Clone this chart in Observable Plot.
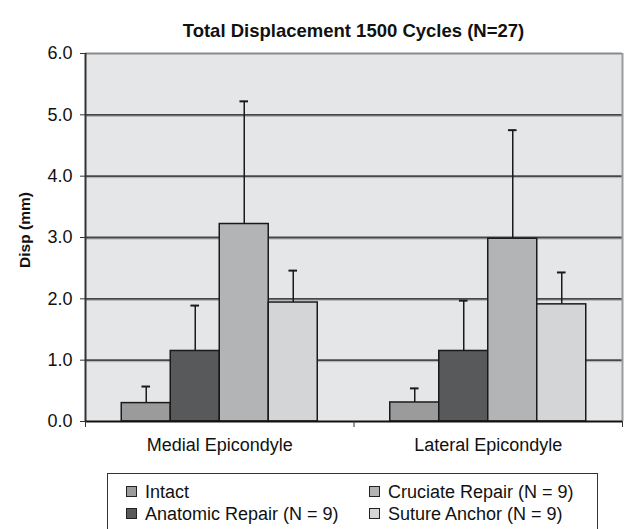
<!DOCTYPE html>
<html>
<head>
<meta charset="utf-8">
<script src="https://cdn.jsdelivr.net/npm/d3@7"></script>
<script src="https://cdn.jsdelivr.net/npm/@observablehq/plot@0.6"></script>
<style>
  html, body { margin: 0; padding: 0; background: #fff; }
  #wrap { position: relative; width: 627px; height: 529px; overflow: hidden; font-family: "Liberation Sans", Arial, sans-serif; color: #111; }
  #title { position: absolute; left: 85px; width: 537px; top: 21px; text-align: center; font-weight: bold; font-size: 18.5px; line-height: 20px; }
  #ylabel { position: absolute; left: 25px; top: 230px; transform: translate(-50%, -50%) rotate(-90deg); font-weight: bold; font-size: 15.5px; line-height: 18px; white-space: nowrap; }
  #chart { position: absolute; left: 0; top: 0; }
  #legend { position: absolute; left: 107px; top: 473px; width: 491px; height: 70px; border: 1.5px solid #333; background: #fff; box-sizing: border-box; }
  .item { position: absolute; font-size: 18px; line-height: 22px; white-space: nowrap; }
  .sw { display: inline-block; width: 9px; height: 9px; border: 1px solid #222; margin-right: 8px; vertical-align: 1px; }
</style>
</head>
<body>
<div id="wrap">
  <div id="chart"></div>
  <div id="title">Total Displacement 1500 Cycles (N=27)</div>
  <div id="ylabel">Disp (mm)</div>
  <div id="legend"></div>
</div>
<script>
const sites = ["Medial Epicondyle", "Lateral Epicondyle"];
const groups = ["Intact", "Anatomic Repair (N = 9)", "Cruciate Repair (N = 9)", "Suture Anchor (N = 9)"];
const colors = ["#9b9b9b", "#58595b", "#b3b4b6", "#d4d5d7"];
const medialMeans = [0.30, 1.15, 3.22, 1.94];
const medialErrs = [0.27, 0.74, 2.00, 0.52];
const lateralMeans = [0.31, 1.15, 2.98, 1.91];
const lateralErrs = [0.23, 0.82, 1.77, 0.52];
const yTicks = [0, 1, 2, 3, 4, 5, 6];

const means = [medialMeans, lateralMeans];
const errs = [medialErrs, lateralErrs];
const bw = 0.1825;   // bar width as a fraction of a category band
const cap = 0.016;   // half-width of error caps

const rows = [];
sites.forEach((s, si) => {
  groups.forEach((g, gi) => {
    const xc = si + 0.5 + (gi - 1.5) * bw;
    rows.push({site: s, group: g, color: colors[gi], value: means[si][gi], top: means[si][gi] + errs[si][gi], xc, x1: xc - bw / 2, x2: xc + bw / 2});
  });
});

const grid = yTicks.filter(d => d > 0 && d < 6);

const chart = Plot.plot({
  width: 627,
  height: 529,
  marginTop: 53,
  marginBottom: 108,
  marginLeft: 85,
  marginRight: 5,
  style: {fontFamily: '"Liberation Sans", Arial, sans-serif', color: "#111", background: "transparent"},
  x: {domain: [0, 2], axis: null},
  y: {domain: [0, 6], axis: null},
  marks: [
    Plot.frame({fill: "#e5e6e8", stroke: null}),
    Plot.ruleY(grid, {stroke: "#b0b0b0", strokeWidth: 1, dy: 1.5}),
    Plot.ruleY(grid, {stroke: "#474747", strokeWidth: 1.8}),
    Plot.ruleY([6], {stroke: "#8a8a8a", strokeWidth: 2}),
    Plot.ruleX([2], {stroke: "#9c9c9c", strokeWidth: 2}),
    Plot.ruleX(rows, {x: "xc", y1: "value", y2: "top", stroke: "#1a1a1a", strokeWidth: 1.5}),
    Plot.ruleY(rows, {y: "top", x1: d => d.xc - cap, x2: d => d.xc + cap, stroke: "#1a1a1a", strokeWidth: 2}),
    Plot.rectY(rows, {x1: "x1", x2: "x2", y: "value", fill: "color", stroke: "#1a1a1a", strokeWidth: 1.5}),
    Plot.ruleX([0], {stroke: "#333", strokeWidth: 2}),
    Plot.ruleY([0], {stroke: "#111", strokeWidth: 2}),
    Plot.axisY({ticks: yTicks, tickFormat: d => d.toFixed(1), tickSize: 5, tickPadding: 8, fontSize: 18, label: null, stroke: "#333"}),
    Plot.axisX({ticks: [0, 1, 2], tickSize: 6, tickFormat: () => "", label: null, stroke: "#333"}),
    Plot.text(sites, {x: (d, i) => i + 0.5, frameAnchor: "bottom", lineAnchor: "top", dy: 17, fontSize: 18, fill: "#111"})
  ]
});
document.getElementById("chart").appendChild(chart);

// legend
const legend = document.getElementById("legend");
const pos = [[18, 7], [18, 29], [261, 7], [261, 29]];
groups.forEach((g, i) => {
  const it = document.createElement("div");
  it.className = "item";
  it.style.left = pos[i][0] + "px";
  it.style.top = pos[i][1] + "px";
  const sw = document.createElement("span");
  sw.className = "sw";
  sw.style.background = colors[i];
  it.appendChild(sw);
  it.appendChild(document.createTextNode(g));
  legend.appendChild(it);
});
</script>
</body>
</html>
